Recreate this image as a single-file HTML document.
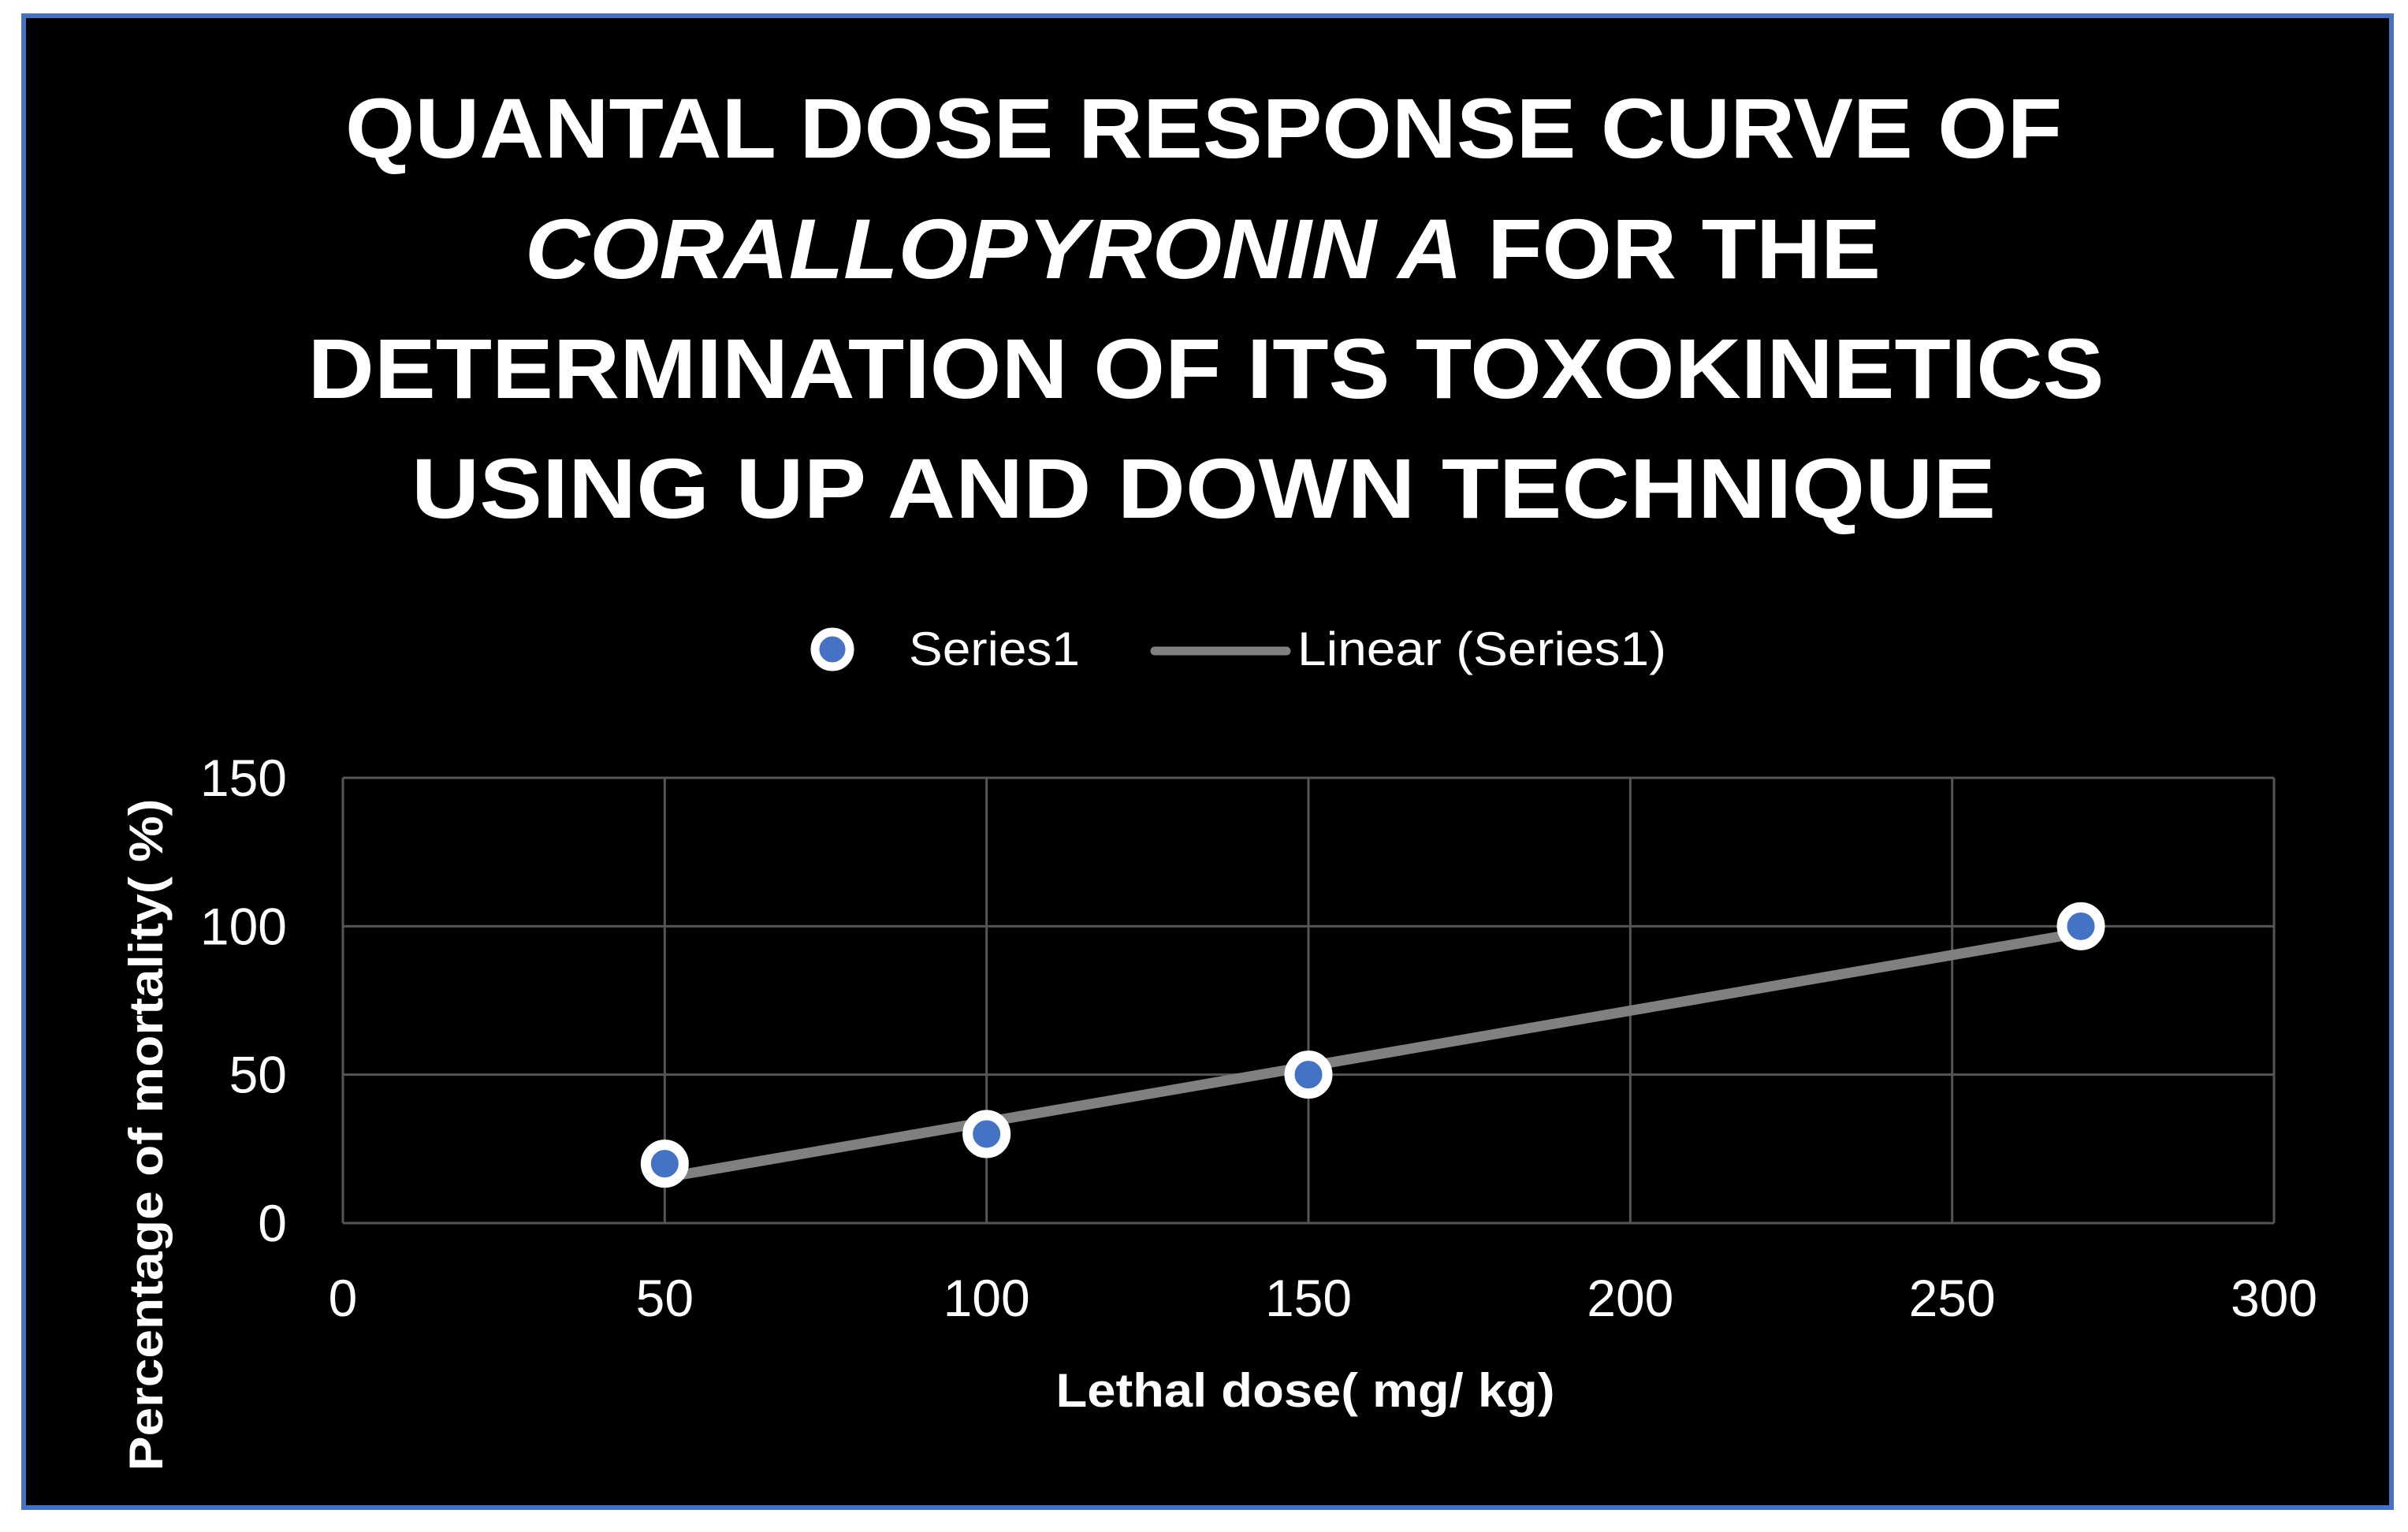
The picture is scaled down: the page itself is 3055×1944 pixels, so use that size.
<!DOCTYPE html>
<html><head><meta charset="utf-8"><style>
html,body{margin:0;padding:0;background:#fff;}
svg{display:block;}
text{font-family:"Liberation Sans",sans-serif;fill:#fff;}
</style></head><body>
<svg id="chart" width="3055" height="1944" viewBox="0 0 3055 1944">
<rect x="30" y="20" width="3004" height="1893" fill="#000" stroke="#4472C4" stroke-width="6"/>
<g font-weight="bold" font-size="108" text-anchor="middle">
<text x="1527" y="200" textLength="2178" lengthAdjust="spacingAndGlyphs">QUANTAL DOSE RESPONSE CURVE OF</text>
<text x="1526" y="353" textLength="1720" lengthAdjust="spacingAndGlyphs"><tspan font-style="italic">CORALLOPYRONIN A</tspan> FOR THE</text>
<text x="1530" y="505" textLength="2279" lengthAdjust="spacingAndGlyphs">DETERMINATION OF ITS TOXOKINETICS</text>
<text x="1527" y="657" textLength="2010" lengthAdjust="spacingAndGlyphs">USING UP AND DOWN TECHNIQUE</text>
</g>
<g>
<circle cx="1056" cy="824" r="22" fill="#4472C4" stroke="#fff" stroke-width="11"/>
<text x="1153" y="844" font-size="60" textLength="217" lengthAdjust="spacingAndGlyphs">Series1</text>
<line x1="1465" y1="826" x2="1632" y2="826" stroke="#808080" stroke-width="11" stroke-linecap="round"/>
<text x="1646" y="844" font-size="60" textLength="468" lengthAdjust="spacingAndGlyphs">Linear (Series1)</text>
</g>
<g id="grid"></g>
<g id="ticks"></g>
<g id="marks"></g>
<text x="1656" y="1785" font-size="60" font-weight="bold" text-anchor="middle" textLength="633" lengthAdjust="spacingAndGlyphs">Lethal dose( mg/ kg)</text>
<text transform="translate(206,1440) rotate(-90)" font-size="60" font-weight="bold" text-anchor="middle" textLength="853" lengthAdjust="spacingAndGlyphs">Percentage of mortality( %)</text>
</svg>
<script>
const xData = [50, 100, 150, 270];
const yData = [20, 30, 50, 100];
const xTicks = [0, 50, 100, 150, 200, 250, 300];
const yTicks = [0, 50, 100, 150];

const NS = "http://www.w3.org/2000/svg";
const L = 435, R = 2885, T = 987, B = 1552;
const xMin = 0, xMax = 300, yMin = 0, yMax = 150;
function sx(v){ return L + (v - xMin) / (xMax - xMin) * (R - L); }
function sy(v){ return B - (v - yMin) / (yMax - yMin) * (B - T); }
function mk(tag, attrs, parent){
  const e = document.createElementNS(NS, tag);
  for (const k in attrs) e.setAttribute(k, attrs[k]);
  parent.appendChild(e);
  return e;
}
const grid = document.getElementById('grid');
const ticks = document.getElementById('ticks');
const marks = document.getElementById('marks');

yTicks.forEach(v => {
  const l = mk('line', {x1:L, x2:R, y1:sy(v), y2:sy(v), stroke:'#555', 'stroke-width':3}, grid);
  
  
  const t = mk('text', {x:364, y:sy(v)+23, 'font-size':66, 'text-anchor':'end'}, ticks);
  t.textContent = v;
  
  
});
xTicks.forEach(v => {
  const l = mk('line', {x1:sx(v), x2:sx(v), y1:T, y2:B, stroke:'#555', 'stroke-width':3}, grid);
  
  
  const t = mk('text', {x:sx(v), y:1670, 'font-size':66, 'text-anchor':'middle'}, ticks);
  t.textContent = v;
  
  
});

// linear trendline (least squares)
const n = xData.length;
const mx = xData.reduce((a,b)=>a+b,0)/n, my = yData.reduce((a,b)=>a+b,0)/n;
let sxy = 0, sxx = 0;
for (let i=0;i<n;i++){ sxy += (xData[i]-mx)*(yData[i]-my); sxx += (xData[i]-mx)**2; }
const slope = sxy/sxx, icpt = my - slope*mx;
const x0 = Math.min(...xData), x1 = Math.max(...xData);
const tl = mk('line', {x1:sx(x0), y1:sy(icpt+slope*x0), x2:sx(x1), y2:sy(icpt+slope*x1), stroke:'#808080', 'stroke-width':13}, marks);



xData.forEach((x, i) => {
  const c = mk('circle', {cx:sx(x), cy:sy(yData[i]), r:24, fill:'#4472C4', stroke:'#fff', 'stroke-width':13}, marks);
  
  
});
</script>
</body></html>
